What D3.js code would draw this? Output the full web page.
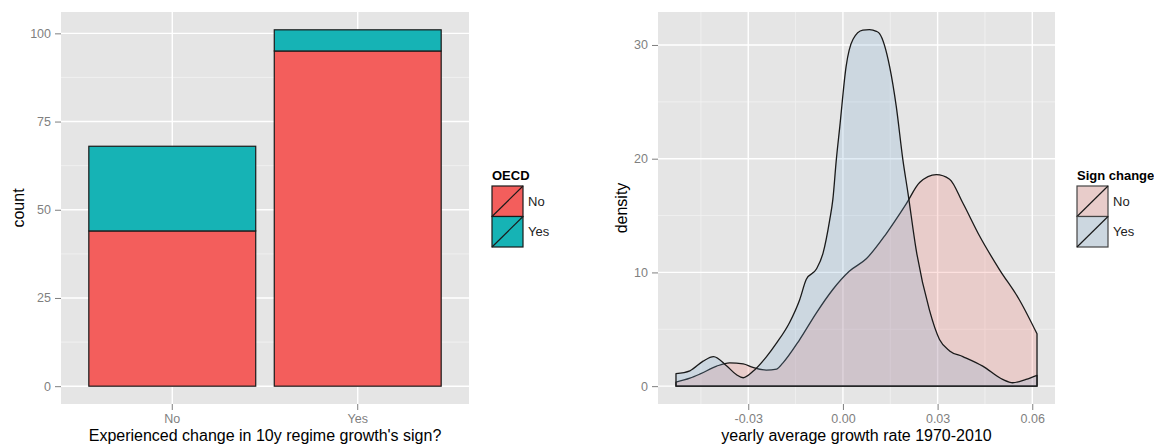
<!DOCTYPE html>
<html>
<head>
<meta charset="utf-8">
<script src="https://cdn.jsdelivr.net/npm/d3@7"></script>
<style>
  html, body { margin: 0; padding: 0; background: #ffffff; }
  svg { display: block; font-family: "Liberation Sans", Arial, Helvetica, sans-serif; }
</style>
</head>
<body>
<svg id="chart" width="1154" height="445"></svg>
<script>
// ---------------- DATA ----------------
// Left panel: stacked counts by "Experienced change in 10y regime growth's sign?"
const categories = ["No", "Yes"];
const oecdNo = [44, 95];   // OECD = No (red)
const oecdYes = [24, 6];   // OECD = Yes (teal)
const oecdLevels = ["No", "Yes"];
const leftYTicks = [0, 25, 50, 75, 100];
const leftYMinor = [12.5, 37.5, 62.5, 87.5];

// Right panel: density of yearly average growth rate 1970-2010 by sign change
const signLevels = ["No", "Yes"];
const densityNo = [
  [-0.0529, 0.35], [-0.0485, 0.7], [-0.0454, 1.05], [-0.040, 1.76], [-0.0359, 2.05],
  [-0.0316, 1.95], [-0.0285, 1.65], [-0.0243, 1.41], [-0.021, 1.5], [-0.019, 2.05],
  [-0.0137, 4.1], [-0.0084, 6.45], [-0.0032, 8.5], [0.002, 10.1], [0.0074, 11.2],
  [0.0137, 13.4], [0.020, 16.0], [0.0243, 17.9], [0.0296, 18.6], [0.0338, 18.2],
  [0.038, 16.1], [0.0433, 13.2], [0.0496, 10.25], [0.0559, 7.6], [0.0615, 4.6]
];
const densityYes = [
  [-0.0529, 1.1], [-0.0485, 1.35], [-0.0443, 2.2], [-0.041, 2.6], [-0.0369, 1.8],
  [-0.0337, 1.0], [-0.0316, 0.74], [-0.0285, 1.3], [-0.0242, 2.6], [-0.021, 3.8],
  [-0.0169, 5.6], [-0.0137, 7.6], [-0.0116, 9.4], [-0.0084, 10.3], [-0.0063, 11.7],
  [-0.0042, 14.6], [-0.0032, 16.4], [-0.0021, 19.9], [-0.001, 22.8], [0.001, 28.1],
  [0.0032, 30.5], [0.0063, 31.3], [0.0084, 31.35], [0.0106, 31.2], [0.0116, 31.0],
  [0.0148, 28.1], [0.0169, 24.6], [0.019, 19.9], [0.0206, 17.0], [0.0232, 12.0],
  [0.0274, 6.7], [0.0306, 4.1], [0.0338, 3.1], [0.038, 2.6], [0.0443, 1.76],
  [0.0506, 0.59], [0.0538, 0.3], [0.058, 0.59], [0.0615, 0.95]
];
const rightXTicks = [-0.03, 0.00, 0.03, 0.06];
const rightXMinor = [-0.045, -0.015, 0.015, 0.045];
const rightYTicks = [0, 10, 20, 30];
const rightYMinor = [5, 15, 25];

// ---------------- STYLE ----------------
const panelBg = "#E5E5E5";
const minorGrid = "#F2F2F2";
const majorGrid = "#FFFFFF";
const tickColor = "#7F7F7F";
const barColors = { "No": "#F35E5C", "Yes": "#16B3B5" };
const densFill = { "No": "rgba(248,118,109,0.22)", "Yes": "rgba(120,170,210,0.22)" };
const outline = "#1a1a1a";
const titleSize = "16px";
const tickSize = "12.5px";
const legendSize = "13px";

const svg = d3.select("#chart");

function panel(g, x0, x1, y0, y1) {
  g.append("rect").attr("x", x0).attr("y", y0).attr("width", x1 - x0).attr("height", y1 - y0).attr("fill", panelBg);
}
function styleAxis(a) {
  a.select(".domain").remove();
  a.selectAll(".tick line").attr("stroke", tickColor).attr("stroke-width", 1);
  a.selectAll(".tick text").attr("fill", tickColor).style("font-size", tickSize);
}

// ================= LEFT PANEL =================
const L = { x0: 61, x1: 469, y0: 12, y1: 404 };
const xL = d3.scaleBand().domain(categories).range([L.x0, L.x1]).paddingInner(0.1).paddingOuter(0.15);
const yL = d3.scaleLinear().domain([-5.05, 106.05]).range([L.y1, L.y0]);

const gL = svg.append("g");
panel(gL, L.x0, L.x1, L.y0, L.y1);
gL.selectAll(".minorY").data(leftYMinor).join("line")
  .attr("x1", L.x0).attr("x2", L.x1).attr("y1", d => yL(d)).attr("y2", d => yL(d))
  .attr("stroke", minorGrid).attr("stroke-width", 0.8);
gL.selectAll(".majorY").data(leftYTicks).join("line")
  .attr("x1", L.x0).attr("x2", L.x1).attr("y1", d => yL(d)).attr("y2", d => yL(d))
  .attr("stroke", majorGrid).attr("stroke-width", 1.4);
gL.selectAll(".majorX").data(categories).join("line")
  .attr("x1", d => xL(d) + xL.bandwidth() / 2).attr("x2", d => xL(d) + xL.bandwidth() / 2)
  .attr("y1", L.y0).attr("y2", L.y1)
  .attr("stroke", majorGrid).attr("stroke-width", 1.4);

// stacked bars
const stackRows = categories.map((c, i) => ({ cat: c, No: oecdNo[i], Yes: oecdYes[i] }));
const stacked = d3.stack().keys(oecdLevels)(stackRows);
stacked.forEach(layer => {
  gL.selectAll(null).data(layer).join("rect")
    .attr("x", d => xL(d.data.cat))
    .attr("width", xL.bandwidth())
    .attr("y", d => yL(d[1]))
    .attr("height", d => yL(d[0]) - yL(d[1]))
    .attr("fill", barColors[layer.key])
    .attr("stroke", outline).attr("stroke-width", 1.2);
});

// axes
const axLy = gL.append("g").attr("transform", `translate(${L.x0},0)`)
  .call(d3.axisLeft(yL).tickValues(leftYTicks).tickSize(6).tickPadding(4).tickFormat(d3.format("d")));
const axLx = gL.append("g").attr("transform", `translate(0,${L.y1})`)
  .call(d3.axisBottom(xL).tickSize(6).tickPadding(4));
styleAxis(axLy); styleAxis(axLx);

gL.append("text").attr("transform", `translate(24,${(L.y0 + L.y1) / 2}) rotate(-90)`)
  .attr("text-anchor", "middle").style("font-size", titleSize).attr("fill", "#000").text("count");
gL.append("text").attr("x", (L.x0 + L.x1) / 2).attr("y", 441)
  .attr("text-anchor", "middle").style("font-size", titleSize).attr("fill", "#000")
  .text("Experienced change in 10y regime growth's sign?");

// legend left
const legL = svg.append("g").attr("transform", "translate(492,186)");
legL.append("text").attr("x", 0).attr("y", -6).style("font-size", legendSize).style("font-weight", "bold").text("OECD");
oecdLevels.forEach((lev, i) => {
  const k = legL.append("g").attr("transform", `translate(0,${i * 30.5})`);
  k.append("rect").attr("width", 31).attr("height", 30.5).attr("fill", barColors[lev]).attr("stroke", outline).attr("stroke-width", 1.2);
  k.append("line").attr("x1", 0).attr("y1", 30.5).attr("x2", 31).attr("y2", 0).attr("stroke", outline).attr("stroke-width", 1.2);
  k.append("text").attr("x", 36).attr("y", 15.25).attr("dy", "0.35em").style("font-size", legendSize).attr("fill", "#222").text(lev);
});

// ================= RIGHT PANEL =================
const R = { x0: 658, x1: 1055, y0: 12, y1: 404 };
const xR = d3.scaleLinear().domain([-0.0586, 0.0672]).range([R.x0, R.x1]);
const yR = d3.scaleLinear().domain([-1.57, 32.9]).range([R.y1, R.y0]);

const gR = svg.append("g");
panel(gR, R.x0, R.x1, R.y0, R.y1);
gR.selectAll(".minorY").data(rightYMinor).join("line")
  .attr("x1", R.x0).attr("x2", R.x1).attr("y1", d => yR(d)).attr("y2", d => yR(d))
  .attr("stroke", minorGrid).attr("stroke-width", 0.8);
gR.selectAll(".minorX").data(rightXMinor).join("line")
  .attr("x1", d => xR(d)).attr("x2", d => xR(d)).attr("y1", R.y0).attr("y2", R.y1)
  .attr("stroke", minorGrid).attr("stroke-width", 0.8);
gR.selectAll(".majorY").data(rightYTicks).join("line")
  .attr("x1", R.x0).attr("x2", R.x1).attr("y1", d => yR(d)).attr("y2", d => yR(d))
  .attr("stroke", majorGrid).attr("stroke-width", 1.4);
gR.selectAll(".majorX").data(rightXTicks).join("line")
  .attr("x1", d => xR(d)).attr("x2", d => xR(d)).attr("y1", R.y0).attr("y2", R.y1)
  .attr("stroke", majorGrid).attr("stroke-width", 1.4);

const area = d3.area().x(d => xR(d[0])).y0(yR(0)).y1(d => yR(d[1])).curve(d3.curveMonotoneX);
const series = { "No": densityNo, "Yes": densityYes };
signLevels.forEach(lev => {
  gR.append("path").datum(series[lev]).attr("d", area)
    .attr("fill", densFill[lev]).attr("stroke", outline).attr("stroke-width", 1.3)
    .attr("stroke-linejoin", "round");
});

const axRy = gR.append("g").attr("transform", `translate(${R.x0},0)`)
  .call(d3.axisLeft(yR).tickValues(rightYTicks).tickSize(6).tickPadding(4).tickFormat(d3.format("d")));
const axRx = gR.append("g").attr("transform", `translate(0,${R.y1})`)
  .call(d3.axisBottom(xR).tickValues(rightXTicks).tickSize(6).tickPadding(4).tickFormat(d => d3.format(".2f")(d).replace("\u2212", "-")));
styleAxis(axRy); styleAxis(axRx);

gR.append("text").attr("transform", `translate(627,${(R.y0 + R.y1) / 2}) rotate(-90)`)
  .attr("text-anchor", "middle").style("font-size", titleSize).attr("fill", "#000").text("density");
gR.append("text").attr("x", (R.x0 + R.x1) / 2).attr("y", 441)
  .attr("text-anchor", "middle").style("font-size", titleSize).attr("fill", "#000")
  .text("yearly average growth rate 1970-2010");

// legend right
const legR = svg.append("g").attr("transform", "translate(1077,186)");
legR.append("text").attr("x", 0).attr("y", -6).style("font-size", legendSize).style("font-weight", "bold").text("Sign change");
signLevels.forEach((lev, i) => {
  const k = legR.append("g").attr("transform", `translate(0,${i * 30.5})`);
  k.append("rect").attr("width", 31).attr("height", 30.5).attr("fill", panelBg);
  k.append("rect").attr("width", 31).attr("height", 30.5).attr("fill", densFill[lev]).attr("stroke", "#444").attr("stroke-width", 1.2);
  k.append("line").attr("x1", 0).attr("y1", 30.5).attr("x2", 31).attr("y2", 0).attr("stroke", outline).attr("stroke-width", 1.2);
  k.append("text").attr("x", 36).attr("y", 15.25).attr("dy", "0.35em").style("font-size", legendSize).attr("fill", "#222").text(lev);
});
</script>
</body>
</html>
